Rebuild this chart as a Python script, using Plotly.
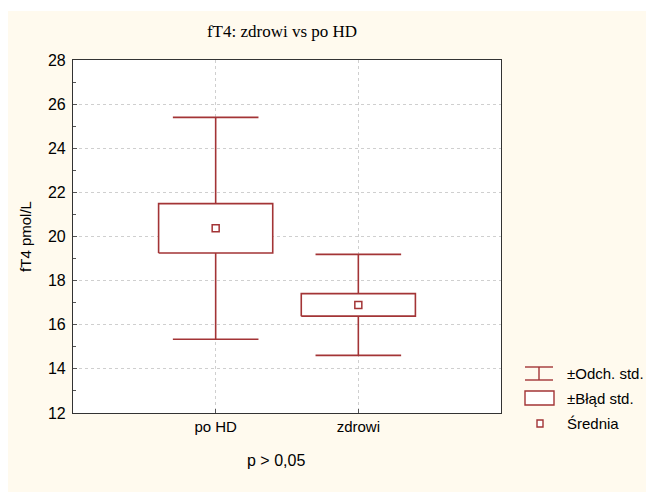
import plotly.graph_objects as go

# ---- data ----
categories = ["po HD", "zdrowi"]
means = [20.37, 16.90]
std_err = [1.12, 0.51]
std_dev = [5.03, 2.29]
y_ticks = [12, 14, 16, 18, 20, 22, 24, 26, 28]
legend_labels = ["±Odch. std.", "±Błąd std.", "Średnia"]
x_title = "p > 0,05"

RED = "#A33436"
CREAM = "#FFFAEE"
OFF = 8  # page body margin in browser
W, H = 654 - OFF, 492 - OFF
# plot area in window pixels: x 73..501, y 60..413
L, R, T, B = 73 - OFF, 654 - 501, 60 - OFF, 492 - 413
PW, PH = W - L - R, H - T - B
FONT = "Liberation Sans, Arial"

def px(x):  # window x pixel -> paper
    return (x - OFF - L) / PW

def py(y):  # window y pixel -> paper
    return (H - B - (y - OFF)) / PH

fig = go.Figure()
xs = list(range(len(categories)))
BOX_HW, CAP_HW = 0.4, 0.3

# whiskers (±SD)
for i, m, sd in zip(xs, means, std_dev):
    fig.add_trace(go.Scatter(
        x=[i - CAP_HW, i + CAP_HW, None, i, i, None, i - CAP_HW, i + CAP_HW],
        y=[m + sd, m + sd, None, m + sd, m - sd, None, m - sd, m - sd],
        mode="lines", line=dict(color=RED, width=1.6),
        showlegend=False, hoverinfo="skip"))

# boxes (±SE)
for i, m, se in zip(xs, means, std_err):
    fig.add_trace(go.Scatter(
        x=[i - BOX_HW, i + BOX_HW, i + BOX_HW, i - BOX_HW, i - BOX_HW],
        y=[m - se, m - se, m + se, m + se, m - se],
        mode="lines", fill="toself", fillcolor="white",
        line=dict(color=RED, width=1.6),
        showlegend=False, hoverinfo="skip"))

# means
fig.add_trace(go.Scatter(
    x=xs, y=means, mode="markers",
    marker=dict(symbol="square-open", size=7, color=RED, line=dict(width=1.5)),
    showlegend=False))

shapes = []
shapes.append(dict(type="rect", xref="paper", yref="paper",
                   x0=px(0), x1=px(700), y0=py(11), y1=py(0),
                   fillcolor="white", line=dict(width=0), layer="below"))

# legend keys
for seg in [((525, 367), (553, 367)), ((525, 380), (553, 380)), ((539, 367), (539, 380))]:
    (x0, y0), (x1, y1) = seg
    shapes.append(dict(type="line", xref="paper", yref="paper",
                       x0=px(x0), y0=py(y0), x1=px(x1), y1=py(y1),
                       line=dict(color=RED, width=1.4)))
shapes.append(dict(type="rect", xref="paper", yref="paper",
                   x0=px(525), x1=px(554), y0=py(405), y1=py(391),
                   fillcolor="white", line=dict(color=RED, width=1.4)))
shapes.append(dict(type="rect", xref="paper", yref="paper",
                   x0=px(537), x1=px(543), y0=py(427), y1=py(420),
                   fillcolor="white", line=dict(color=RED, width=1.4)))

annotations = []
for lab, yc in zip(legend_labels, [373, 398, 423]):
    annotations.append(dict(text=lab, xref="paper", yref="paper",
                            x=px(565), y=py(yc), xanchor="left", yanchor="middle",
                            showarrow=False,
                            font=dict(family=FONT, size=15, color="black")))
# x-axis caption
annotations.append(dict(text=x_title, xref="paper", yref="paper",
                        x=px(276), y=py(460), xanchor="center", yanchor="middle",
                        showarrow=False, font=dict(family=FONT, size=16, color="black")))

fig.update_layout(
    width=W, height=H,
    margin=dict(l=L, r=R, t=T, b=B),
    paper_bgcolor=CREAM, plot_bgcolor="white",
    title=dict(text="fT4: zdrowi vs po HD", x=(282 - OFF) / W, xanchor="center",
               xref="container",
               y=1 - (31 - OFF) / H, yanchor="middle",
               font=dict(family="Liberation Serif, Times New Roman", size=17, color="black")),
    shapes=shapes, annotations=annotations,
    showlegend=False,
    font=dict(family=FONT, size=15, color="black"),
)

fig.update_xaxes(
    range=[-1, 2], tickvals=xs, ticktext=categories,
    showgrid=True, gridcolor="#CFCFCF", griddash="dot", gridwidth=1,
    ticks="inside", ticklen=4, tickcolor="#555",
    showline=True, linecolor="#333", linewidth=1.2, mirror=True,
    zeroline=False,
    tickfont=dict(size=15),
)
fig.update_yaxes(
    range=[12, 28], tickvals=y_ticks,
    showgrid=True, gridcolor="#CFCFCF", griddash="dot", gridwidth=1,
    ticks="inside", ticklen=4, tickcolor="#555",
    minor=dict(dtick=1, ticks="inside", ticklen=3, tickcolor="#555", showgrid=False),
    showline=True, linecolor="#333", linewidth=1.2, mirror=True,
    zeroline=False, ticklabelstandoff=3,
    title=dict(text="fT4 pmol/L", standoff=12, font=dict(size=15)),
    tickfont=dict(size=16),
)

fig.write_html("out.html")
